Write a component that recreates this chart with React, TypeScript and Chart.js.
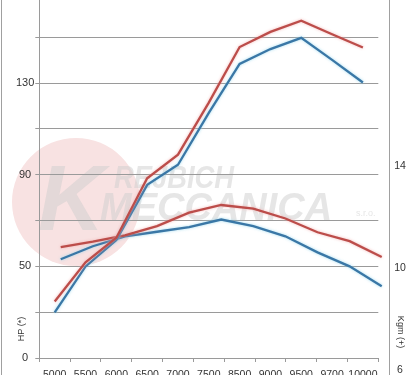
import React, { useEffect, useRef } from "react";
import { Chart, registerables } from "chart.js";

Chart.register(...registerables);

// ---- data ----
const rpmLabels = ["5000", "5500", "6000", "6500", "7000", "7500", "8500", "9000", "9500", "9700", "10000"];
const hpRed = [34.7, 51.8, 62.5, 88.5, 98.8, 121.5, 145.8, 152.4, 157.3, 151.4, 145.6];
const hpBlue = [29.9, 50.0, 61.5, 85.6, 94.4, 117.0, 138.4, 144.9, 149.8, 140.2, 130.3];
const kgmRed = [10.84, 11.05, 11.3, 11.66, 12.19, 12.49, 12.35, 11.96, 11.42, 11.07, 10.45];
const kgmBlue = [10.36, 10.87, 11.26, 11.44, 11.62, 11.92, 11.66, 11.26, 10.63, 10.08, 9.3];
const hpTickValues = [10, 30, 50, 70, 90, 110, 130, 150, 170];
const hpTickLabels = ["0", "", "50", "", "90", "", "130", "", ""];
const kgmTickValues = [6, 10, 14];
const kgmTickLabels = ["6", "10", "14"];
const hpTitle = "HP (*)";
const kgmTitle = "Kgm (+)";
const logoTop = "REJBICH";
const logoBottom = "MECCANICA";
const logoK = "K";
const logoSuffix = "s.r.o.";

const RED = "#bc4d4a";
const BLUE = "#3a77a6";
const GRID = "#9a9a9a";
const TEXT = "#333333";
const SHIFT = 16;
const CANVAS_H = 412;

const glowColors = ["rgba(240,170,170,0.8)", "rgba(140,210,235,0.8)", "rgba(240,170,170,0.8)", "rgba(140,210,235,0.8)"];

const decorPlugin = {
  id: "decor",
  beforeDraw(chart: any) {
    const ctx = chart.ctx;
    ctx.save();
    ctx.translate(0, SHIFT);
    ctx.fillStyle = "#f8e2e2";
    ctx.beginPath();
    ctx.arc(76, 202, 64, 0, Math.PI * 2);
    ctx.fill();
    ctx.fillStyle = "rgba(205,205,205,0.5)";
    ctx.textBaseline = "alphabetic";
    ctx.textAlign = "left";
    ctx.font = "italic bold 92px 'Liberation Sans', Arial, sans-serif";
    ctx.fillText(logoK, 38, 230, 78);
    ctx.font = "italic bold 32px 'Liberation Sans', Arial, sans-serif";
    ctx.fillText(logoTop, 114, 188, 120);
    ctx.font = "italic bold 38px 'Liberation Sans', Arial, sans-serif";
    ctx.fillText(logoBottom, 100, 220, 235);
    ctx.font = "9px 'Liberation Sans', Arial, sans-serif";
    ctx.fillText(logoSuffix, 356, 216, 24);
    ctx.restore();
  },
  beforeDatasetDraw(chart: any, args: any) {
    const ctx = chart.ctx;
    ctx.save();
    ctx.shadowColor = glowColors[args.index] || "transparent";
    ctx.shadowBlur = 3;
  },
  afterDatasetDraw(chart: any) {
    chart.ctx.restore();
  },
  afterDraw(chart: any) {
    const ctx = chart.ctx;
    const y2 = chart.scales.y2;
    ctx.save();
    ctx.strokeStyle = "#a0a0a0";
    ctx.lineWidth = 1;
    ctx.beginPath();
    ctx.moveTo(1.5, 0);
    ctx.lineTo(1.5, chart.height);
    ctx.moveTo(389.5, 0);
    ctx.lineTo(389.5, chart.height);
    ctx.stroke();
    ctx.fillStyle = TEXT;
    ctx.font = "10.5px 'Liberation Sans', Arial, sans-serif";
    ctx.textAlign = "center";
    ctx.textBaseline = "middle";
    kgmTickValues.forEach((v, i) => {
      ctx.fillText(kgmTickLabels[i], 400, y2.getPixelForValue(v));
    });
    ctx.font = "9px 'Liberation Sans', Arial, sans-serif";
    ctx.save();
    ctx.translate(22, 329 + SHIFT);
    ctx.rotate(-Math.PI / 2);
    ctx.fillText(hpTitle, 0, 0);
    ctx.restore();
    ctx.save();
    ctx.translate(400, 332 + SHIFT);
    ctx.rotate(Math.PI / 2);
    ctx.fillText(kgmTitle, 0, 0);
    ctx.restore();
    ctx.restore();
  },
};

export default function App() {
  const ref = useRef<HTMLCanvasElement | null>(null);

  useEffect(() => {
    if (!ref.current) return;
    const chart = new Chart(ref.current, {
      type: "line",
      data: {
        labels: rpmLabels,
        datasets: [
          { data: hpRed, borderColor: RED, xAxisID: "x", yAxisID: "y" },
          { data: hpBlue, borderColor: BLUE, xAxisID: "x", yAxisID: "y" },
          { data: kgmRed.map((v, i) => ({ x: i, y: v })), borderColor: RED, xAxisID: "x2", yAxisID: "y2", clip: false },
          { data: kgmBlue.map((v, i) => ({ x: i, y: v })), borderColor: BLUE, xAxisID: "x2", yAxisID: "y2", clip: false },
        ] as any,
      },
      options: {
        animation: false,
        responsive: false,
        events: [],
        layout: { padding: { left: 0, right: 32.7, top: 0, bottom: 7.4 } },
        elements: {
          line: { borderWidth: 2.3, tension: 0, fill: false },
          point: { radius: 0 },
        },
        plugins: { legend: { display: false }, tooltip: { enabled: false } },
        scales: {
          x: {
            type: "category",
            offset: true,
            grid: { drawOnChartArea: false, offset: true, tickLength: 4, color: GRID },
            border: { color: GRID },
            ticks: {
              color: TEXT,
              font: { size: 10.5, family: "'Liberation Sans', Arial, sans-serif" },
              maxRotation: 0,
              autoSkip: false,
              padding: 7,
            },
          },
          x2: { type: "linear", display: false, min: -0.667, max: 9.894 },
          y: {
            type: "linear",
            position: "left",
            min: 10,
            max: 170,
            afterBuildTicks: (scale: any) => {
              scale.ticks = hpTickValues.map((v) => ({ value: v }));
            },
            afterFit: (scale: any) => {
              scale.width = 39.3;
            },
            grid: { color: GRID, tickLength: 4 },
            border: { color: GRID },
            ticks: {
              color: TEXT,
              crossAlign: "center",
              padding: 1,
              font: { size: 11, family: "'Liberation Sans', Arial, sans-serif" },
              callback: (value: any) => {
                const idx = hpTickValues.indexOf(Number(value));
                return idx >= 0 ? hpTickLabels[idx] : "";
              },
            },
          },
          y2: { type: "linear", position: "right", display: false, min: 6.482, max: 20.87 },
        },
      },
      plugins: [decorPlugin],
    } as any);
    return () => chart.destroy();
  }, []);

  return (
    <div style={{ position: "fixed", left: 0, top: 0, width: 411, height: 375, overflow: "hidden", background: "#fff" }}>
      <canvas ref={ref} width={411} height={CANVAS_H} style={{ position: "absolute", left: 0, top: -SHIFT, width: 411, height: CANVAS_H }} />
    </div>
  );
}
